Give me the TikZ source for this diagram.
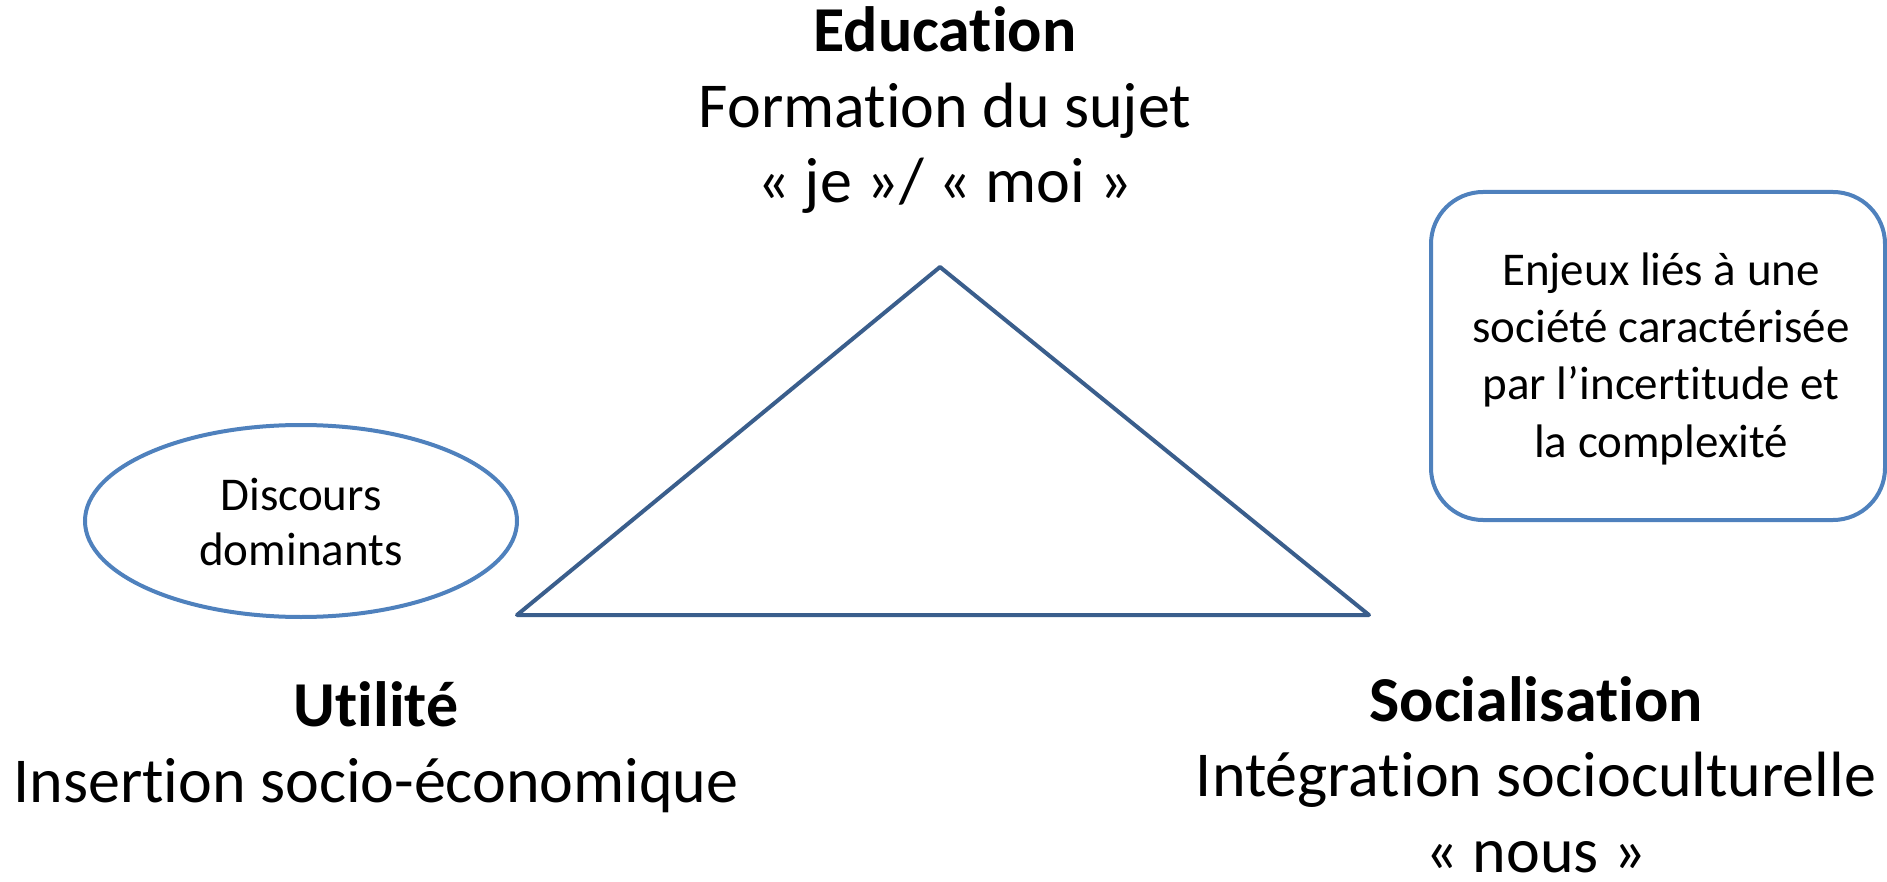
\documentclass[tikz,border=0pt]{standalone}
\usepackage{fontspec}
\setmainfont{Carlito}[Ligatures={NoCommon}]
\usetikzlibrary{shapes.geometric}
\definecolor{shapeblue}{HTML}{4F81BD}
\definecolor{triblue}{HTML}{3A5E8C}
\begin{document}
\begin{tikzpicture}[x=1pt,y=-1pt,
  bigtext/.style={font=\fontsize{64}{75.5}\selectfont, align=center, anchor=base, inner sep=0pt},
  smalltext/.style={font=\fontsize{47}{57.3}\selectfont, align=center, anchor=base, inner sep=0pt},
  ovaltext/.style={font=\fontsize{47}{55}\selectfont, align=center, anchor=base, inner sep=0pt},
  oval/.style={ellipse, draw=shapeblue, line width=4pt, inner sep=0pt},
  roundbox/.style={rectangle, draw=shapeblue, line width=4pt, rounded corners=52pt, inner sep=0pt},
  triline/.style={draw=triblue, line width=4pt, line join=round}]
\useasboundingbox (0,0) rectangle (1887,882);
% triangle
\coordinate (apex) at (940,267);
\coordinate (bl) at (517,615);
\coordinate (br) at (1369,615);
\draw[triline] (apex) -- (br) -- (bl) -- cycle;
% shapes
\node[oval, minimum width=432pt, minimum height=192pt] (disc) at (301,521) {};
\node[roundbox, minimum width=454pt, minimum height=328pt] (enj) at (1658,356) {};
% texts (anchor = baseline of the last line)
\node[bigtext] (edu) at (945,203) {\textbf{Education}\\Formation du sujet\\« je »/ « moi »};
\node[bigtext] (util) at (376,802) {\textbf{Utilité}\\Insertion socio-économique};
\node[bigtext] (soc) at (1536,872) {\textbf{Socialisation}\\Intégration socioculturelle\\« nous »};
\node[ovaltext] (disctext) at (301,565) {Discours\\dominants};
\node[smalltext] (enjtext) at (1661,457) {Enjeux liés à une\\société caractérisée\\par l’incertitude et\\la complexité};
\end{tikzpicture}
\end{document}
